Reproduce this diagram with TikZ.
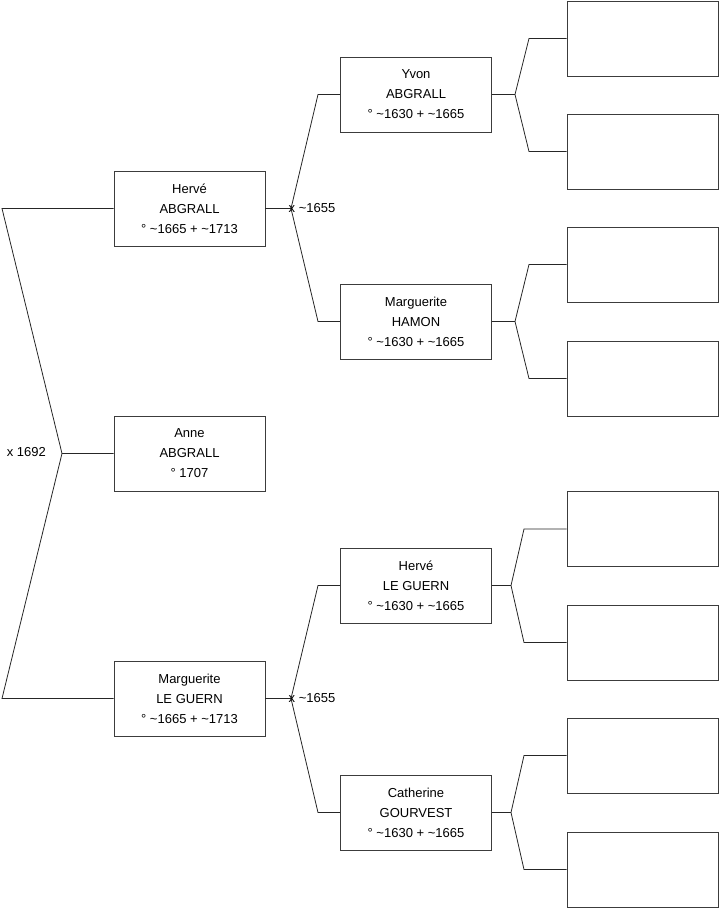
\documentclass[tikz,border=0pt]{standalone}
\usepackage{fontspec}
\setmainfont{Liberation Sans}
\usetikzlibrary{positioning}
\definecolor{boxline}{RGB}{60,60,60}

\begin{document}
\begin{tikzpicture}[x=1pt, y=-1pt,
  every node/.style={font=\fontsize{13}{20}\selectfont},
  person/.style={draw=boxline, line width=0.8pt, minimum width=151pt, minimum height=75pt, align=center, inner sep=0pt},
  link/.style={draw=black!85, line width=0.8pt}]
  \useasboundingbox (0,0) rectangle (719,908);
  % generation 1
  \node[person] (herve) at (189.5,208.5) {Hervé\\ABGRALL\\° \textasciitilde1665 + \textasciitilde1713};
  \node[person] (anne) at (189.5,453.5) {Anne\\ABGRALL\\° 1707};
  \node[person] (marg) at (189.5,698.5) {Marguerite\\LE GUERN\\° \textasciitilde1665 + \textasciitilde1713};
  % generation 2
  \node[person] (yvon) at (416,94.5) {Yvon\\ABGRALL\\° \textasciitilde1630 + \textasciitilde1665};
  \node[person] (hamon) at (416,321.5) {Marguerite\\HAMON\\° \textasciitilde1630 + \textasciitilde1665};
  \node[person] (leguern) at (416,585.5) {Hervé\\LE GUERN\\° \textasciitilde1630 + \textasciitilde1665};
  \node[person] (gourvest) at (416,812.5) {Catherine\\GOURVEST\\° \textasciitilde1630 + \textasciitilde1665};
  % generation 3 (empty)
  \foreach \n/\y in {p1/38.5, p2/151.5, p3/264.5, p4/378.5, p5/529, p6/642.5, p7/755.5, p8/869.5}
    \node[person] (\n) at (642.5,\y) {};

  % parents of Anne
  \coordinate (m0) at (62,453.5);
  \coordinate (f0) at (2,208.5);
  \coordinate (f1) at (2,698.5);
  \draw[link] (anne.west) -- (m0) -- (f0) -- (herve.west);
  \draw[link] (m0) -- (f1) -- (marg.west);
  \node[anchor=east, inner sep=0pt] (w0) at (46,452) {x 1692};

  % parents of Hervé
  \coordinate (m1) at (291,208.5);
  \draw[link] (herve.east) -- (m1);
  \draw[link] (m1) -- (318,94.5) -- (yvon.west);
  \draw[link] (m1) -- (318,321.5) -- (hamon.west);
  \node[anchor=west, inner sep=0pt] (w1) at (288.5,208) {x \textasciitilde1655};

  % parents of Marguerite
  \coordinate (m2) at (291,698.5);
  \draw[link] (marg.east) -- (m2);
  \draw[link] (m2) -- (318,585.5) -- (leguern.west);
  \draw[link] (m2) -- (318,812.5) -- (gourvest.west);
  \node[anchor=west, inner sep=0pt] (w2) at (288.5,698) {x \textasciitilde1655};

  % grandparents
  \coordinate (m3) at (515,94.5);
  \draw[link] (yvon.east) -- (m3);
  \draw[link] (m3) -- (529,38.5) -- (p1.west);
  \draw[link] (m3) -- (529,151.5) -- (p2.west);
  \coordinate (m4) at (515,321.5);
  \draw[link] (hamon.east) -- (m4);
  \draw[link] (m4) -- (529,264.5) -- (p3.west);
  \draw[link] (m4) -- (529,378.5) -- (p4.west);
  \coordinate (m5) at (511,585.5);
  \draw[link] (leguern.east) -- (m5);
  \draw[link] (m5) -- (524,529) -- (p5.west);
  \draw[link] (m5) -- (524,642.5) -- (p6.west);
  \coordinate (m6) at (511,812.5);
  \draw[link] (gourvest.east) -- (m6);
  \draw[link] (m6) -- (524,755.5) -- (p7.west);
  \draw[link] (m6) -- (524,869.5) -- (p8.west);
\end{tikzpicture}
\end{document}
